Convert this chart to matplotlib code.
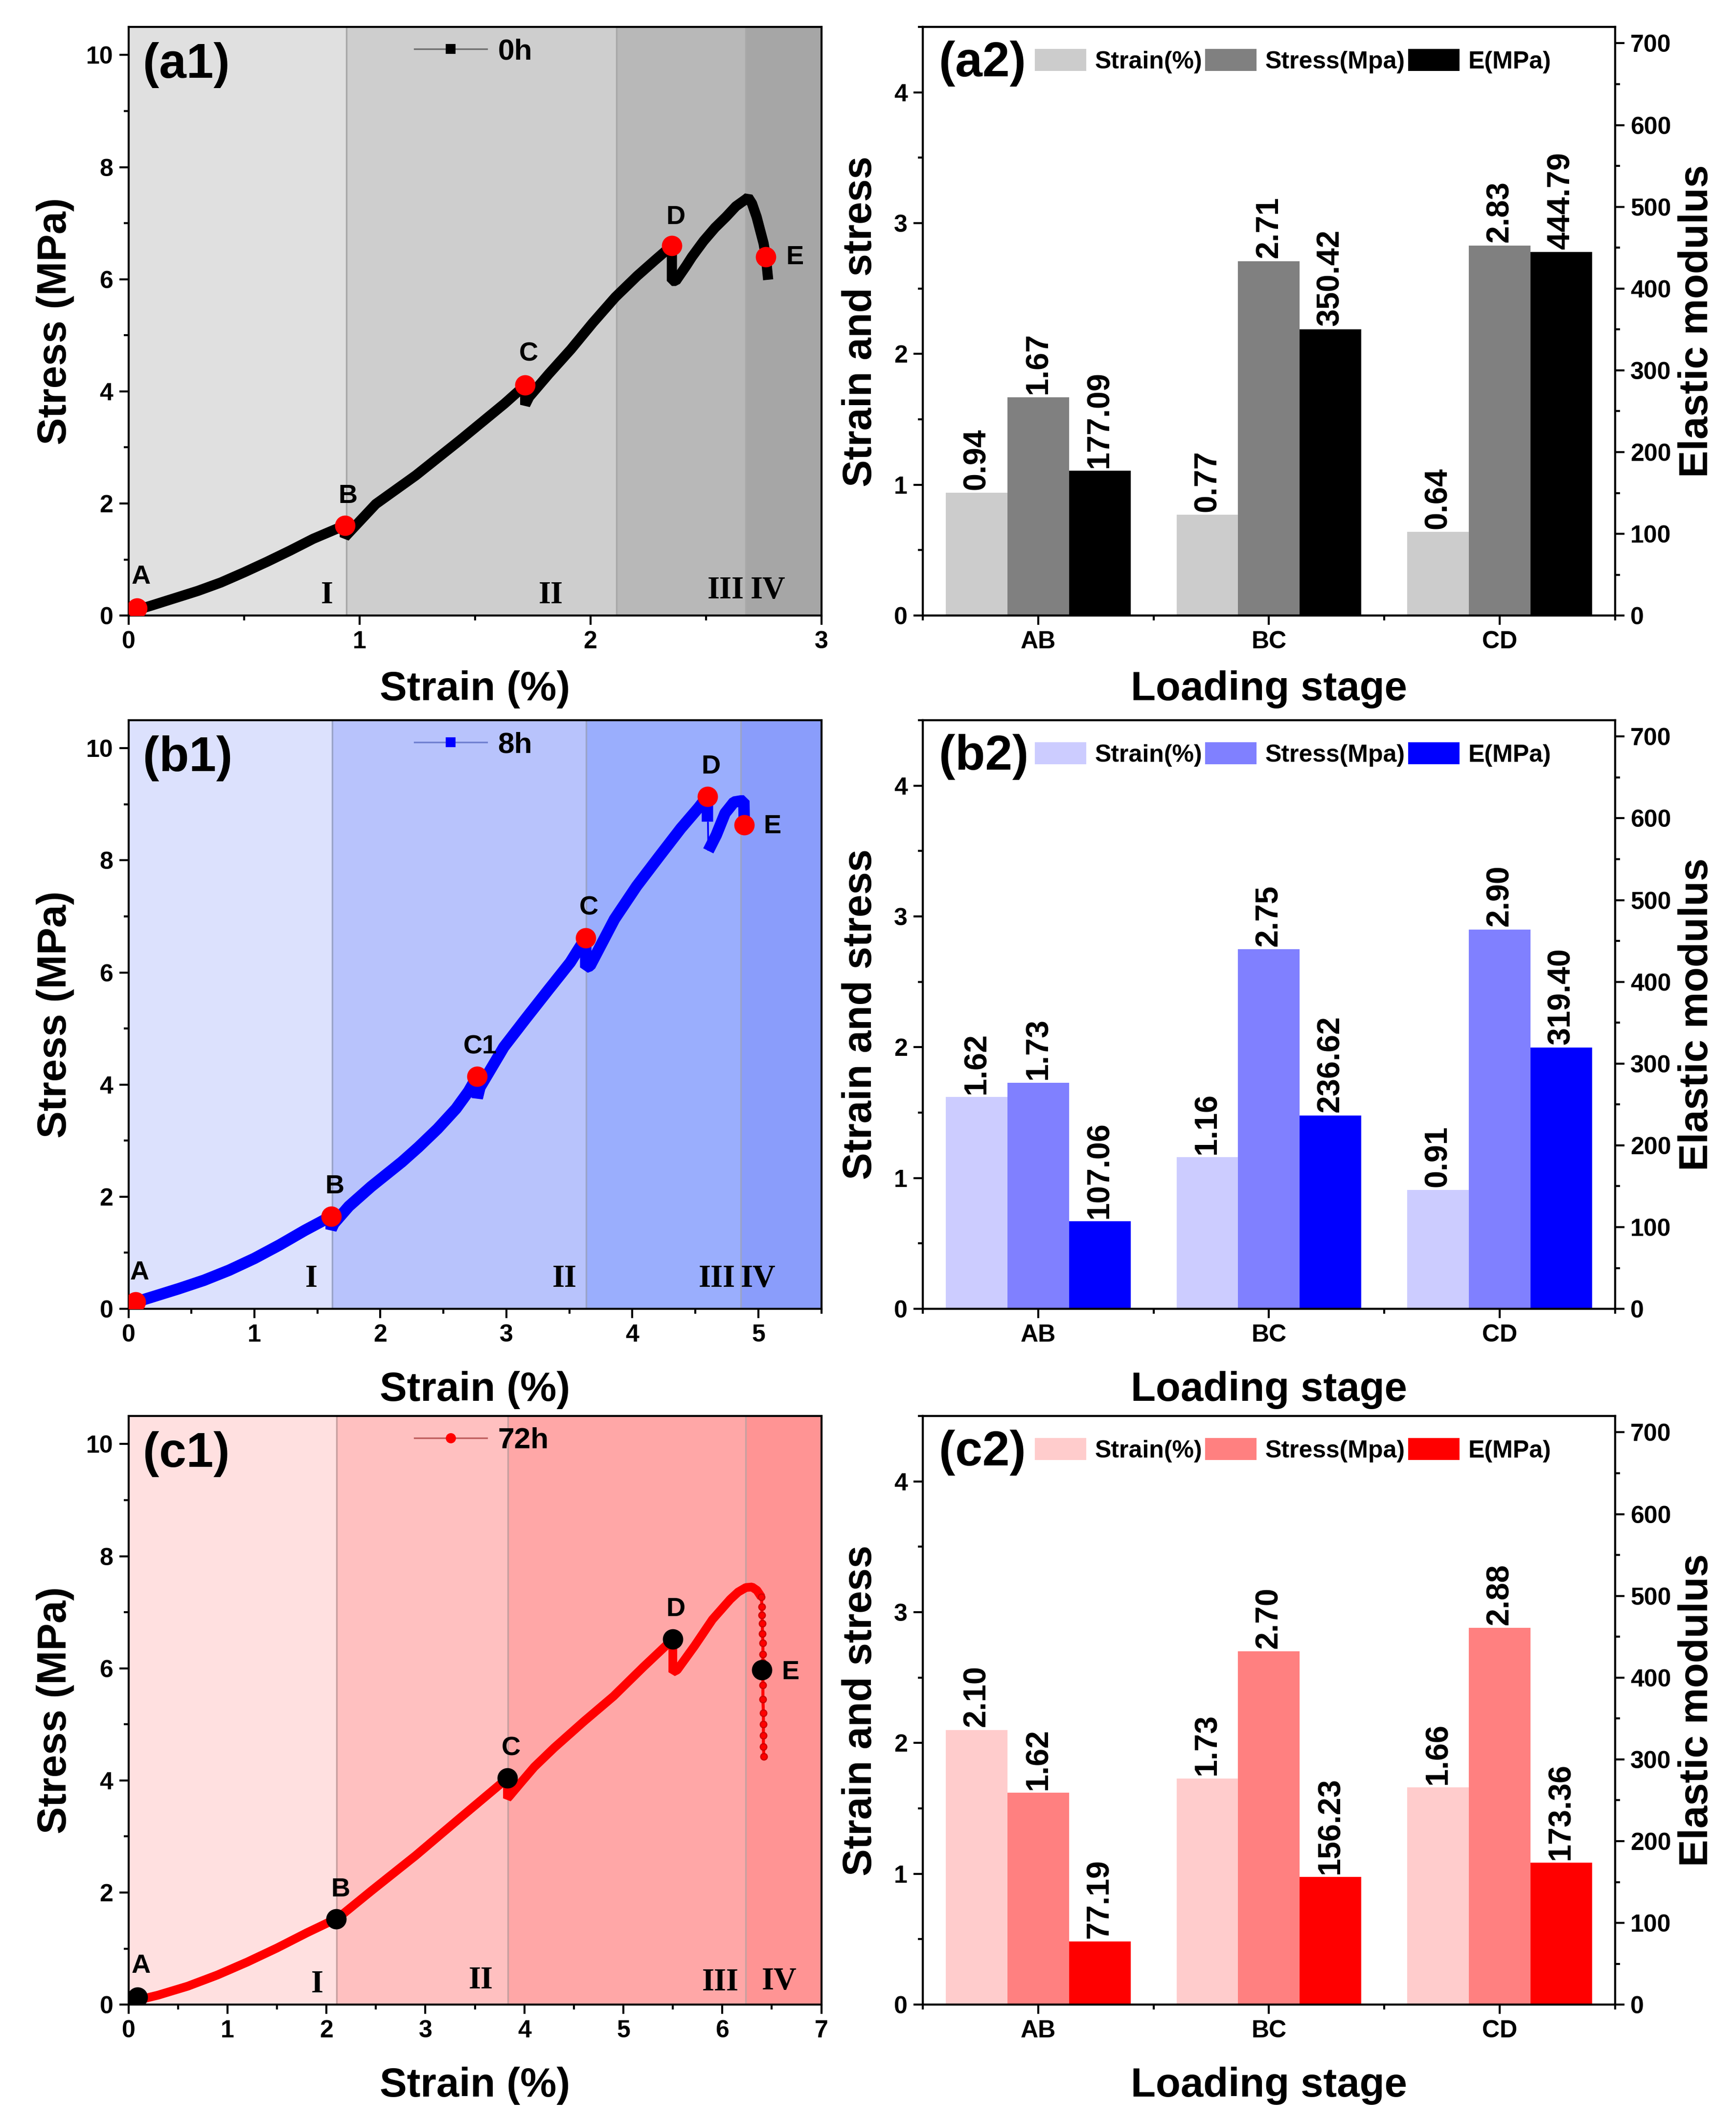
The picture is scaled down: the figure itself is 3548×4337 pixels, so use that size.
import numpy as np
import matplotlib
matplotlib.use('Agg')
import matplotlib.pyplot as plt
from matplotlib.lines import Line2D
from matplotlib.patches import Patch
from matplotlib.ticker import MultipleLocator, FixedLocator

plt.rcParams['font.family'] = ['Liberation Sans', 'DejaVu Sans']
plt.rcParams['font.weight'] = 'bold'
plt.rcParams['axes.labelweight'] = 'bold'
plt.rcParams['axes.linewidth'] = 1.0

# ---------------- data: stress-strain curves ----------------
strain_0h = [0.02, 0.10, 0.20, 0.30, 0.40, 0.50, 0.60, 0.70, 0.80, 0.937, 0.937, 0.955, 1.071, 1.244,
             1.436, 1.628, 1.718, 1.718, 1.735, 1.82, 1.916, 2.01, 2.108, 2.203, 2.28, 2.353, 2.353,
             2.37, 2.415, 2.44, 2.49, 2.54, 2.587, 2.63, 2.674, 2.683, 2.70, 2.72, 2.75, 2.76, 2.77]
stress_0h = [0.08, 0.18, 0.31, 0.44, 0.59, 0.77, 0.96, 1.16, 1.37, 1.61, 1.40, 1.48, 1.99, 2.50,
             3.13, 3.78, 4.11, 3.76, 3.90, 4.31, 4.75, 5.22, 5.68, 6.06, 6.34, 6.60, 5.97,
             5.97, 6.24, 6.40, 6.68, 6.92, 7.11, 7.30, 7.43, 7.46, 7.35, 7.11, 6.64, 6.40, 5.99]

strain_8h = [0.0, 0.056, 0.20, 0.40, 0.60, 0.80, 1.0, 1.2, 1.40, 1.609, 1.609, 1.63, 1.75, 1.926,
             2.17, 2.30, 2.453, 2.60, 2.70, 2.769, 2.769, 2.79, 2.98, 3.155, 3.33, 3.507, 3.63,
             3.63, 3.665, 3.858, 4.034, 4.21, 4.385, 4.526, 4.596, 4.596]
stress_8h = [0.05, 0.12, 0.22, 0.36, 0.51, 0.69, 0.90, 1.14, 1.40, 1.65, 1.42, 1.52, 1.83, 2.18,
             2.62, 2.88, 3.21, 3.57, 3.88, 4.15, 3.76, 3.95, 4.67, 5.18, 5.68, 6.18, 6.62,
             6.09, 6.12, 6.95, 7.54, 8.06, 8.57, 8.94, 9.14, 8.69]
strain_8h_link = [4.600, 4.603]
stress_8h_link = [8.69, 8.17]
strain_8h_post = [4.603, 4.666, 4.736, 4.807, 4.86, 4.885, 4.89]
stress_8h_post = [8.17, 8.45, 8.84, 9.04, 9.06, 9.06, 8.51]

strain_72h = [0.0, 0.09, 0.30, 0.60, 0.90, 1.20, 1.50, 1.80, 2.096, 2.096, 2.12, 2.454, 2.902,
              3.35, 3.829, 3.829, 3.85, 3.95, 4.10, 4.30, 4.60, 4.90, 5.20, 5.50, 5.50, 5.544,
              5.72, 5.90, 6.08, 6.16, 6.238, 6.30, 6.35, 6.395]
stress_72h = [0.02, 0.08, 0.17, 0.33, 0.53, 0.76, 1.01, 1.28, 1.53, 1.40, 1.55, 2.03, 2.66,
              3.33, 4.04, 3.68, 3.72, 3.93, 4.24, 4.58, 5.05, 5.50, 6.02, 6.52, 5.93, 5.97,
              6.40, 6.87, 7.23, 7.36, 7.44, 7.45, 7.39, 7.27]
strain_72h_tail = [6.395, 6.40, 6.40, 6.405, 6.405, 6.41, 6.41, 6.41, 6.41, 6.41, 6.41, 6.415, 6.415,
                   6.415, 6.415, 6.42]
stress_72h_tail = [7.27, 7.10, 6.95, 6.80, 6.62, 6.45, 6.25, 6.10, 5.90, 5.70, 5.45, 5.20, 5.00,
                   4.80, 4.60, 4.43]

# characteristic points
pt_names_0h = ['A', 'B', 'C', 'D', 'E']
pt_strain_0h = [0.038, 0.937, 1.718, 2.353, 2.76]
pt_stress_0h = [0.13, 1.61, 4.11, 6.60, 6.40]

pt_names_8h = ['A', 'B', 'C1', 'C', 'D', 'E']
pt_strain_8h = [0.056, 1.609, 2.769, 3.63, 4.596, 4.888]
pt_stress_8h = [0.12, 1.65, 4.15, 6.62, 9.14, 8.63]

pt_names_72h = ['A', 'B', 'C', 'D', 'E']
pt_strain_72h = [0.09, 2.096, 3.829, 5.50, 6.40]
pt_stress_72h = [0.13, 1.53, 4.04, 6.52, 5.97]

# label positions for the points
lab_x_0h = [0.054, 0.95, 1.733, 2.37, 2.885]
lab_y_0h = [0.69, 2.13, 4.67, 7.11, 6.39]
lab_x_8h = [0.088, 1.637, 2.793, 3.654, 4.624, 5.113]
lab_y_8h = [0.65, 2.18, 4.67, 7.15, 9.67, 8.61]
lab_x_72h = [0.125, 2.14, 3.865, 5.53, 6.686]
lab_y_72h = [0.69, 2.05, 4.57, 7.05, 5.93]

# stage boundaries (strain %)
bounds_0h = [0.943, 2.113, 2.672]
bounds_8h = [1.616, 3.632, 4.86]
bounds_72h = [2.101, 3.834, 6.234]

stage_labels = ['I', 'II', 'III', 'IV']
stage_x_0h = [0.86, 1.829, 2.587, 2.77]
stage_y_0h = [0.355, 0.355, 0.45, 0.45]
stage_x_8h = [1.451, 3.461, 4.673, 5.0]
stage_y_8h = [0.53, 0.53, 0.53, 0.53]
stage_x_72h = [1.908, 3.56, 5.983, 6.574]
stage_y_72h = [0.355, 0.43, 0.39, 0.41]

# ---------------- data: bar charts ----------------
stages = ['AB', 'BC', 'CD']
strain_bar_0h = [0.94, 0.77, 0.64]
stress_bar_0h = [1.67, 2.71, 2.83]
E_bar_0h = [177.09, 350.42, 444.79]

strain_bar_8h = [1.62, 1.16, 0.91]
stress_bar_8h = [1.73, 2.75, 2.90]
E_bar_8h = [107.06, 236.62, 319.40]

strain_bar_72h = [2.10, 1.73, 1.66]
stress_bar_72h = [1.62, 2.70, 2.88]
E_bar_72h = [77.19, 156.23, 173.36]

bar_legend = ['Strain(%)', 'Stress(Mpa)', 'E(MPa)']

# ---------------- figure ----------------
fig = plt.figure(figsize=(3548 / 300, 4337 / 300), dpi=300)

L1, W1 = 0.0740, 0.3991
L2, W2 = 0.5316, 0.3987
bottoms = [0.7099, 0.3832, 0.0553]
H = 0.2774

TICK_FS = 12
LABEL_FS = 20


def style_axis(ax):
    ax.tick_params(axis='both', which='major', direction='out', length=4.5, width=1.0,
                   labelsize=TICK_FS, pad=3)
    ax.tick_params(axis='both', which='minor', direction='out', length=2.5, width=1.0)
    for lab in ax.get_xticklabels() + ax.get_yticklabels():
        lab.set_fontweight('bold')


def curve_panel(ax, segments, color, lw, xmax, bounds, bg, edge,
                pts_x, pts_y, pts_n, pt_color, lab_x, lab_y, st_x, st_y, panel,
                leg_label, leg_marker, leg_line, xlabel_y, tail=None):
    edges = [0] + bounds + [xmax]
    for i in range(4):
        ax.axvspan(edges[i], edges[i + 1], color=bg[i], zorder=0, lw=0)
    for b in bounds:
        ax.axvline(b, color=edge, lw=0.8, zorder=0.5)
    for sx, sy, slw in segments:
        ax.plot(sx, sy, color=color, lw=lw * slw, solid_capstyle='butt',
                solid_joinstyle='bevel', zorder=2)
    if tail is not None:
        ax.plot(tail[0], tail[1], color=color, lw=1.5, marker='o', ms=3.2, mfc=color,
                mec='#d00000', mew=0.6, zorder=2)
    ax.plot(pts_x, pts_y, 'o', color=pt_color, ms=9, mec=pt_color, zorder=3, ls='none')
    for n, x, y in zip(pts_n, lab_x, lab_y):
        ax.text(x, y, n, fontsize=13, fontweight='bold', ha='center', va='center', zorder=4)
    for s, x, y in zip(stage_labels, st_x, st_y):
        ax.text(x, y, s, fontsize=15.5, fontweight='bold', ha='center', va='center',
                family=['Liberation Serif', 'DejaVu Serif'], zorder=4)
    ax.set_xlim(0, xmax)
    ax.set_ylim(0, 10.5)
    ax.yaxis.set_major_locator(MultipleLocator(2))
    ax.yaxis.set_minor_locator(MultipleLocator(1))
    ax.xaxis.set_major_locator(MultipleLocator(1))
    ax.xaxis.set_minor_locator(MultipleLocator(0.5))
    ax.set_xlabel('Strain (%)', fontsize=LABEL_FS, fontweight='bold')
    ax.set_ylabel('Stress (MPa)', fontsize=LABEL_FS, fontweight='bold')
    ax.xaxis.set_label_coords(0.5, xlabel_y)
    ax.yaxis.set_label_coords(-0.1056, 0.5)
    ax.xaxis.label.set_va('center')
    ax.yaxis.label.set_va('center')
    style_axis(ax)
    ax.text(0.021, 0.935, panel, transform=ax.transAxes, fontsize=24, fontweight='bold',
            ha='left', va='center', zorder=5)
    h = Line2D([], [], color=leg_line, lw=0.8, marker=leg_marker, ms=4, mfc=color, mec=color)
    ax.legend([h], [leg_label], loc='center left', bbox_to_anchor=(0.413, 0.958), frameon=False,
              handlelength=2.45, handletextpad=0.36, borderpad=0, borderaxespad=0,
              prop={'weight': 'bold', 'size': 14.5})


def bar_panel(ax, strain_v, stress_v, E_v, colors, panel, xlabel_y):
    x = np.arange(len(stages))
    w = 0.267
    ax2 = ax.twinx()
    b1 = ax.bar(x - w, strain_v, w, color=colors[0], lw=0, zorder=2)
    b2 = ax.bar(x, stress_v, w, color=colors[1], lw=0, zorder=2)
    b3 = ax2.bar(x + w, E_v, w, color=colors[2], lw=0, zorder=2)
    for bars, vals, a in ((b1, strain_v, ax), (b2, stress_v, ax), (b3, E_v, ax2)):
        for r, v in zip(bars, vals):
            a.annotate(f'{v:.2f}', (r.get_x() + r.get_width() / 2, r.get_height()),
                       xytext=(0, 1.5), textcoords='offset points', rotation=90,
                       ha='center', va='bottom', fontsize=15.5, fontweight='bold')
    ax.set_xlim(-0.5, 2.5)
    ax.set_ylim(0, 4.5)
    ax2.set_ylim(0, 720)
    ax.set_xticks(x)
    ax.set_xticklabels(stages)
    ax.xaxis.set_minor_locator(FixedLocator([-0.5, 0.5, 1.5, 2.5]))
    ax.yaxis.set_major_locator(MultipleLocator(1))
    ax.yaxis.set_minor_locator(MultipleLocator(0.5))
    ax2.yaxis.set_major_locator(MultipleLocator(100))
    ax2.yaxis.set_minor_locator(MultipleLocator(50))
    ax.set_xlabel('Loading stage', fontsize=LABEL_FS, fontweight='bold')
    ax.set_ylabel('Strain and stress', fontsize=LABEL_FS, fontweight='bold')
    ax2.set_ylabel('Elastic modulus', fontsize=LABEL_FS, fontweight='bold', rotation=90)
    ax.xaxis.set_label_coords(0.5, xlabel_y)
    ax.yaxis.set_label_coords(-0.0898, 0.5)
    ax2.yaxis.set_label_coords(1.118, 0.5)
    for lab in (ax.xaxis.label, ax.yaxis.label, ax2.yaxis.label):
        lab.set_va('center')
        lab.set_ha('center')
    style_axis(ax)
    style_axis(ax2)
    ax.text(0.023, 0.938, panel, transform=ax.transAxes, fontsize=24, fontweight='bold',
            ha='left', va='center', zorder=5)
    handles = [Patch(facecolor=c, lw=0) for c in colors]
    ax2.legend(handles, bar_legend, ncol=3, loc='center left', bbox_to_anchor=(0.162, 0.942),
               frameon=False, handlelength=2.1, handleheight=1.0, handletextpad=0.35,
               columnspacing=0.12, borderpad=0, borderaxespad=0,
               prop={'weight': 'bold', 'size': 12})


# row a (0h)
ax = fig.add_axes([L1, bottoms[0], W1, H])
curve_panel(ax, [(strain_0h, stress_0h, 1.0)], 'black', 5.0, 3, bounds_0h,
            ['#e0e0e0', '#cecece', '#b8b8b8', '#a6a6a6'], '#a8a8a8',
            pt_strain_0h, pt_stress_0h, pt_names_0h, 'red', lab_x_0h, lab_y_0h,
            stage_x_0h, stage_y_0h, '(a1)', '0h', 's', '#707070', -0.125)
ax = fig.add_axes([L2, bottoms[0], W2, H])
bar_panel(ax, strain_bar_0h, stress_bar_0h, E_bar_0h, ['#cccccc', '#808080', '#000000'], '(a2)', -0.125)

# row b (8h)
ax = fig.add_axes([L1, bottoms[1], W1, H])
curve_panel(ax, [(strain_8h, stress_8h, 1.0), (strain_8h_link, stress_8h_link, 0.15),
                 (strain_8h_post, stress_8h_post, 1.0)],
            '#0000ff', 5.6, 5.5, bounds_8h,
            ['#dce1fd', '#b8c3fc', '#9aaefd', '#8a9dfb'], '#9aa3c8',
            pt_strain_8h, pt_stress_8h, pt_names_8h, 'red', lab_x_8h, lab_y_8h,
            stage_x_8h, stage_y_8h, '(b1)', '8h', 's', '#7080d0', -0.138)
ax = fig.add_axes([L2, bottoms[1], W2, H])
bar_panel(ax, strain_bar_8h, stress_bar_8h, E_bar_8h, ['#ccccff', '#8080ff', '#0000ff'], '(b2)', -0.138)

# row c (72h)
ax = fig.add_axes([L1, bottoms[2], W1, H])
curve_panel(ax, [(strain_72h, stress_72h, 1.0)], '#ff0000', 4.3, 7, bounds_72h,
            ['#ffe0e0', '#ffc0c0', '#ffa7a7', '#ff9494'], '#c8a0a0',
            pt_strain_72h, pt_stress_72h, pt_names_72h, 'black', lab_x_72h, lab_y_72h,
            stage_x_72h, stage_y_72h, '(c1)', '72h', 'o', '#c06060', -0.138,
            tail=(strain_72h_tail, stress_72h_tail))
ax = fig.add_axes([L2, bottoms[2], W2, H])
bar_panel(ax, strain_bar_72h, stress_bar_72h, E_bar_72h, ['#ffcccc', '#ff8080', '#ff0000'], '(c2)', -0.138)

fig.savefig('out.png', dpi=300)
